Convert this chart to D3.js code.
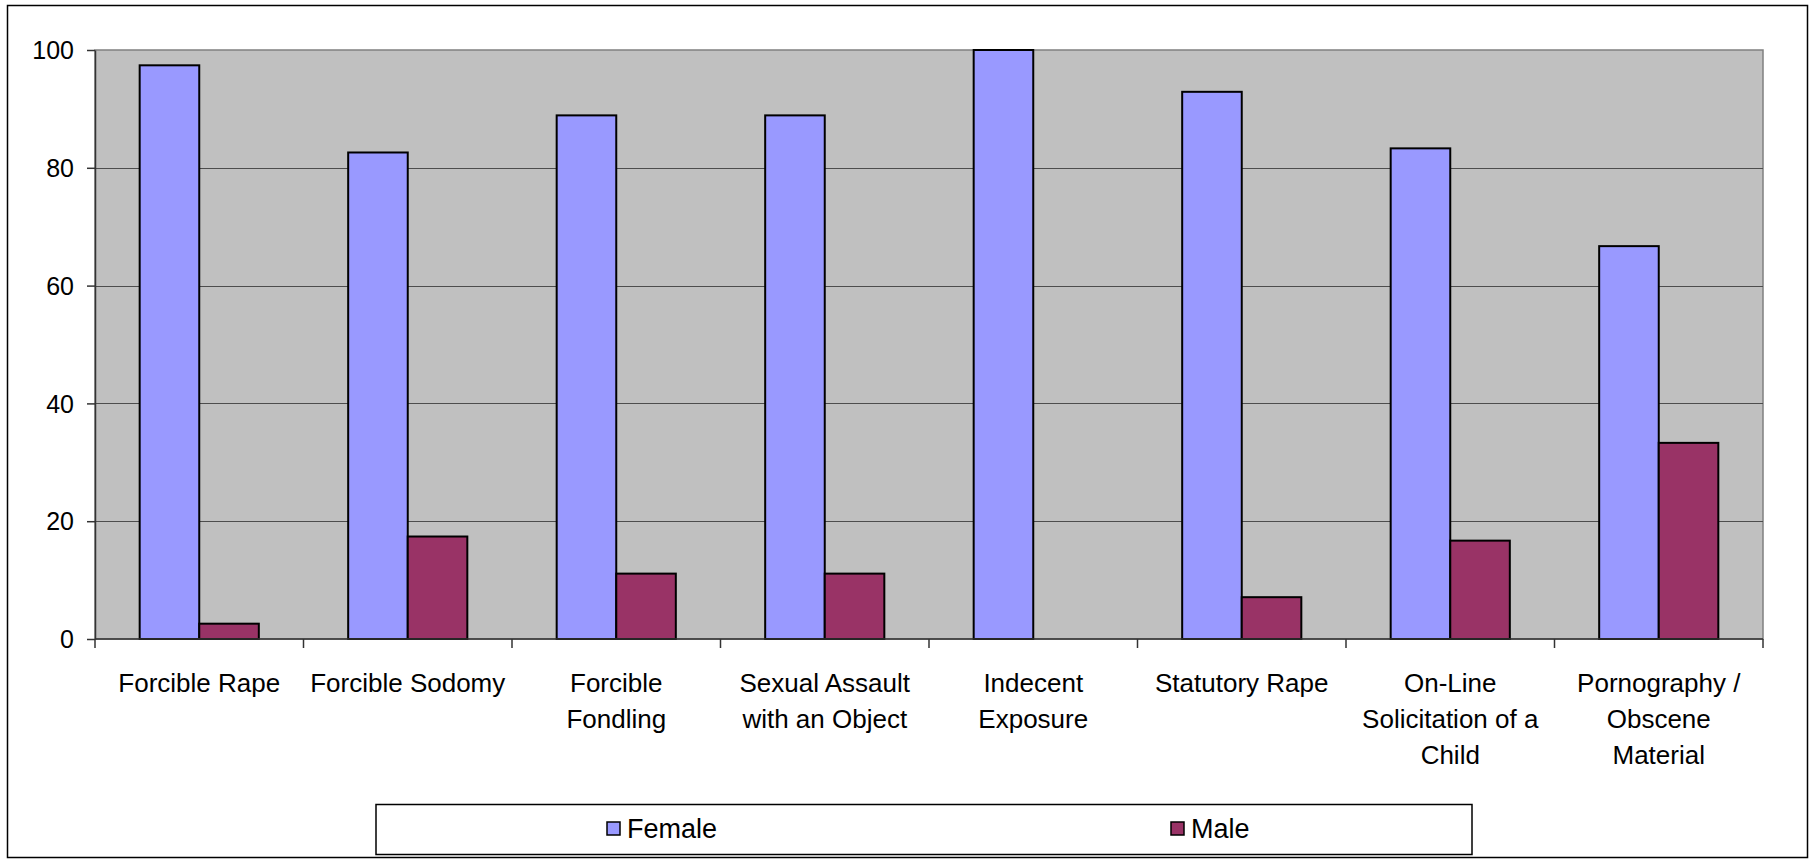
<!DOCTYPE html>
<html>
<head>
<meta charset="utf-8">
<script src="https://cdn.jsdelivr.net/npm/d3@7"></script>
<style>
  html, body { margin: 0; padding: 0; background: #fff; }
  svg { display: block; font-family: Arial, "Liberation Sans", sans-serif; }
</style>
</head>
<body>
<svg id="chart" width="1813" height="859"></svg>
<script>
// chart data
const categories = [
    "Forcible Rape",
    "Forcible Sodomy",
    "Forcible\nFondling",
    "Sexual Assault\nwith an Object",
    "Indecent\nExposure",
    "Statutory Rape",
    "On-Line\nSolicitation of a\nChild",
    "Pornography /\nObscene\nMaterial"
];
const seriesNames = ["Female", "Male"];
const female = [97.4, 82.6, 88.9, 88.9, 100, 92.9, 83.3, 66.7];
const male = [2.6, 17.4, 11.1, 11.1, 0, 7.1, 16.7, 33.3];
const yTicks = [0, 20, 40, 60, 80, 100];

const colors = {Female: "#9999ff", Male: "#993366"};

const svg = d3.select("#chart");

// outer chart border
svg.append("rect")
    .attr("x", 7.5).attr("y", 5.5)
    .attr("width", 1800).attr("height", 852)
    .attr("fill", "#fff")
    .attr("stroke", "#000")
    .attr("stroke-width", 1.5);

const plot = {left: 95, top: 50, right: 1763, bottom: 639};

const x0 = d3.scaleBand()
    .domain(categories)
    .range([plot.left, plot.right])
    .paddingInner(0)
    .paddingOuter(0);

const x1 = d3.scaleBand()
    .domain(seriesNames)
    .range([0, x0.bandwidth()])
    .paddingInner(0)
    .paddingOuter(0.75);

const y = d3.scaleLinear()
    .domain([0, 100])
    .range([plot.bottom, plot.top]);

// plot background
svg.append("rect")
    .attr("x", plot.left).attr("y", plot.top)
    .attr("width", plot.right - plot.left)
    .attr("height", plot.bottom - plot.top)
    .attr("fill", "#c0c0c0")
    .attr("stroke", "#808080")
    .attr("stroke-width", 1.5);

// gridlines
svg.append("g")
    .selectAll("line")
    .data(yTicks.filter(d => d > 0 && d < 100))
    .join("line")
    .attr("x1", plot.left).attr("x2", plot.right)
    .attr("y1", d => Math.round(y(d)) + 0.5)
    .attr("y2", d => Math.round(y(d)) + 0.5)
    .attr("stroke", "#4d4d4d")
    .attr("stroke-width", 1.2);

// bars
const rows = categories.map((c, i) => ({cat: c, values: [
    {key: "Female", v: female[i]},
    {key: "Male", v: male[i]}
]}));

const groups = svg.append("g")
    .selectAll("g")
    .data(rows)
    .join("g")
    .attr("transform", d => `translate(${x0(d.cat)},0)`);

groups.selectAll("rect")
    .data(d => d.values.filter(v => v.v > 0))
    .join("rect")
    .attr("x", d => x1(d.key))
    .attr("y", d => y(d.v))
    .attr("width", x1.bandwidth())
    .attr("height", d => y(0) - y(d.v))
    .attr("fill", d => colors[d.key])
    .attr("stroke", "#000")
    .attr("stroke-width", 2);

// y axis
const yAxis = svg.append("g")
    .attr("transform", `translate(${plot.left},0)`)
    .call(d3.axisLeft(y).tickValues(yTicks).tickSize(8).tickSizeOuter(0).tickPadding(13));
yAxis.select(".domain").attr("stroke", "#333").attr("stroke-width", 1.5);
yAxis.selectAll(".tick line").attr("stroke", "#333").attr("stroke-width", 1.5);
yAxis.selectAll(".tick text")
    .attr("font-size", 25)
    .attr("font-family", "Arial, 'Liberation Sans', sans-serif")
    .attr("fill", "#000")
    .attr("dy", "0.35em");

// x axis line + boundary ticks
svg.append("line")
    .attr("x1", plot.left).attr("x2", plot.right)
    .attr("y1", plot.bottom).attr("y2", plot.bottom)
    .attr("stroke", "#333").attr("stroke-width", 1.5);

const bounds = categories.map(c => x0(c)).concat([plot.right]);
svg.append("g")
    .selectAll("line")
    .data(bounds)
    .join("line")
    .attr("x1", d => d).attr("x2", d => d)
    .attr("y1", plot.bottom).attr("y2", plot.bottom + 9)
    .attr("stroke", "#333").attr("stroke-width", 1.5);

// category labels
const labels = svg.append("g")
    .selectAll("text")
    .data(categories)
    .join("text")
    .attr("x", d => x0(d) + x0.bandwidth() / 2)
    .attr("y", 692)
    .attr("text-anchor", "middle")
    .attr("font-size", 26)
    .attr("fill", "#000");
labels.selectAll("tspan")
    .data(d => d.split("\n").map((t, i) => ({t, i, x: x0(d) + x0.bandwidth() / 2})))
    .join("tspan")
    .attr("x", d => d.x)
    .attr("dy", d => d.i === 0 ? 0 : 36)
    .text(d => d.t);

// legend
const legend = svg.append("g");
legend.append("rect")
    .attr("x", 376).attr("y", 804.5)
    .attr("width", 1096).attr("height", 50)
    .attr("fill", "#fff")
    .attr("stroke", "#000")
    .attr("stroke-width", 1.5);

const legendX = {Female: 607, Male: 1171};
const items = legend.selectAll("g.item")
    .data(seriesNames)
    .join("g")
    .attr("class", "item");
items.append("rect")
    .attr("x", d => legendX[d]).attr("y", 822)
    .attr("width", 13).attr("height", 13)
    .attr("fill", d => colors[d])
    .attr("stroke", "#000")
    .attr("stroke-width", 1.5);
items.append("text")
    .attr("x", d => legendX[d] + 20)
    .attr("y", 838)
    .attr("font-size", 27)
    .attr("fill", "#000")
    .text(d => d);
</script>
</body>
</html>
